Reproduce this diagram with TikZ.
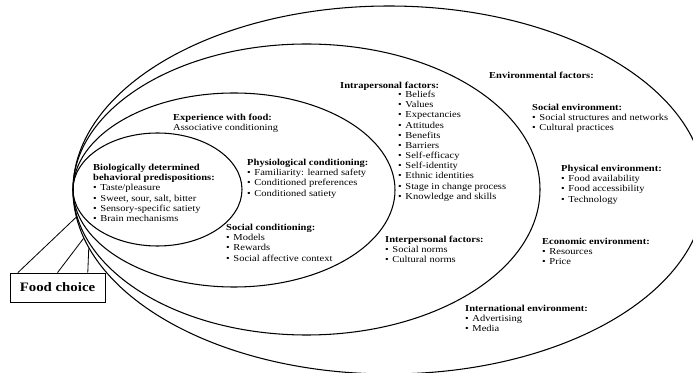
\documentclass[tikz,border=0pt]{standalone}
\usepackage{fontspec}
\setmainfont{Liberation Serif}[FakeStretch=1.15]
\usetikzlibrary{shapes.geometric}
\newcommand{\itm}{\textbullet\hspace{3pt}}

\begin{document}
\begin{tikzpicture}[
  x=0.03cm, y=-0.03cm,
  ring/.style={draw, ellipse, line width=0.9pt, inner sep=0pt},
  block/.style={anchor=north west, inner sep=0pt, align=left, font=\fontsize{7.8}{8.67}\selectfont},
  link/.style={line width=0.7pt},
]
\useasboundingbox (0,0) rectangle (693,373);
% nested spheres of influence, all touching at the left
\foreach \n/\cx/\cy/\rx/\ry in {bio/157.5/189.5/84.5/56.5, exp/234/190/161/97, indiv/306.5/189.5/233.5/145.5, env/389/190/316/184}
  \node[ring, minimum width=2*\rx*0.03cm, minimum height=2*\ry*0.03cm] (\n) at (\cx,\cy) {};

\node[block] (biotxt) at (93,164) {\textbf{Biologically determined}\\\textbf{behavioral predispositions:}\\
  \itm Taste/pleasure\\\itm Sweet, sour, salt, bitter\\\itm Sensory-specific satiety\\\itm Brain mechanisms};
\node[block] (exptxt) at (173,114) {\textbf{Experience with food:}\\Associative conditioning};
\node[block] (physio) at (247,159) {\textbf{Physiological conditioning:}\\\itm Familiarity: learned safety\\
  \itm Conditioned preferences\\\itm Conditioned satiety};
\node[block] (soccond) at (226,224) {\textbf{Social conditioning:}\\\itm Models\\\itm Rewards\\\itm Social affective context};

\node[block] (intra) at (340,82) {\textbf{Intrapersonal factors:}};
\node[block] (intralist) at (398,91) {\itm Beliefs\\\itm Values\\\itm Expectancies\\\itm Attitudes\\\itm Benefits\\
  \itm Barriers\\\itm Self-efficacy\\\itm Self-identity\\\itm Ethnic identities\\\itm Stage in change process\\
  \itm Knowledge and skills};
\node[block] (inter) at (385,236) {\textbf{Interpersonal factors:}\\\itm Social norms\\\itm Cultural norms};

\node[block] (envtxt) at (489,72) {\textbf{Environmental factors:}};
\node[block] (socenv) at (532,104) {\textbf{Social environment:}\\\itm Social structures and networks\\\itm Cultural practices};
\node[block] (physenv) at (561,165) {\textbf{Physical environment:}\\\itm Food availability\\\itm Food accessibility\\\itm Technology};
\node[block] (econ) at (542,238) {\textbf{Economic environment:}\\\itm Resources\\\itm Price};
\node[block] (intl) at (465,305) {\textbf{International environment:}\\\itm Advertising\\\itm Media};

% the outcome box and its ties to the spheres
\node[draw, line width=0.6pt, minimum width=95*0.03cm, minimum height=29*0.03cm, inner sep=0pt,
  font=\fontsize{11}{13}\selectfont\bfseries] (choice) at (57.5,287.5) {Food choice};
\draw[link] ([xshift=7pt]choice.north west) -- (env.185);
\draw[link] (choice.north) -- (env.189);
\draw[link] ([xshift=-15pt]choice.north east) -- (env.191);
\end{tikzpicture}
\end{document}
